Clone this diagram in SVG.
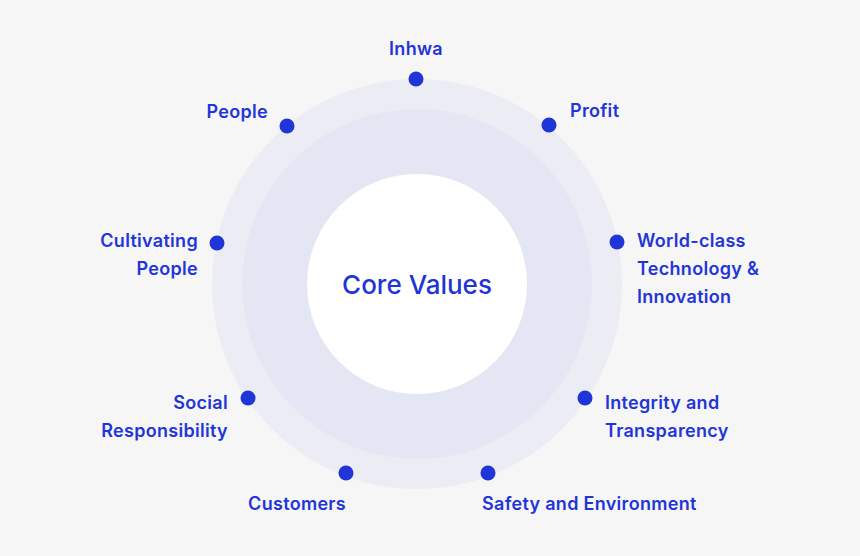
<svg xmlns="http://www.w3.org/2000/svg" width="860" height="556" viewBox="0 0 860 556">
<style>
text{font-family:Inter,"Noto Sans",sans-serif;fill:#1f35d8;font-size:18px;font-weight:600;letter-spacing:0.3px}
.d{fill:#1f35d8}
.r{text-anchor:end}
.m{text-anchor:middle}
</style>
<rect width="860" height="556" fill="#f6f6f6"/>
<g id="core">
<circle cx="417" cy="284" r="205" fill="#ececf4"/>
<circle cx="417" cy="284" r="175" fill="#e4e6f4"/>
<circle cx="417" cy="284" r="110" fill="#ffffff"/>
<text x="417" y="294" class="m" style="font-size:26px;font-weight:500;letter-spacing:0">Core Values</text>
</g>
<g id="inhwa"><circle class="d" cx="416" cy="79" r="7.5"/><text x="416" y="55" class="m">Inhwa</text></g>
<g id="profit"><circle class="d" cx="549" cy="125" r="7.5"/><text x="570" y="117">Profit</text></g>
<g id="world"><circle class="d" cx="617" cy="242" r="7.5"/><text x="637" y="247">World-class</text><text x="637" y="275">Technology &amp;</text><text x="637" y="303">Innovation</text></g>
<g id="integrity"><circle class="d" cx="585" cy="398" r="7.5"/><text x="605" y="409">Integrity and</text><text x="605" y="437">Transparency</text></g>
<g id="safety"><circle class="d" cx="488" cy="473" r="7.5"/><text x="482" y="510">Safety and Environment</text></g>
<g id="customers"><circle class="d" cx="346" cy="473" r="7.5"/><text x="346" y="510" class="r">Customers</text></g>
<g id="social"><circle class="d" cx="248" cy="398" r="7.5"/><text x="228" y="409" class="r">Social</text><text x="228" y="437" class="r">Responsibility</text></g>
<g id="cultivating"><circle class="d" cx="217" cy="243" r="7.5"/><text x="198" y="247" class="r">Cultivating</text><text x="198" y="275" class="r">People</text></g>
<g id="people"><circle class="d" cx="287" cy="126" r="7.5"/><text x="268" y="118" class="r">People</text></g>
<g id="connectors"/>
</svg>
